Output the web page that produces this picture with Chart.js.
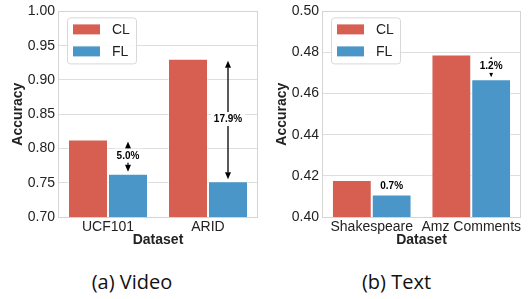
<!DOCTYPE html>
<html>
<head>
<meta charset="utf-8">
<title>CL vs FL accuracy</title>
<script src="https://cdn.jsdelivr.net/npm/chart.js@4/dist/chart.umd.min.js"></script>
<style>
  body { margin:0; background:#fff; }
  #wrap { position:relative; width:529px; height:299px; }
  canvas { position:absolute; top:0; }
  .cap { position:absolute; top:268px; font-family:"Open Sans","Noto Sans",sans-serif; font-size:20px; color:#111; text-align:center; width:264px; }
</style>
</head>
<body>
<div id="wrap">
  <canvas id="video" width="264" height="250" style="left:0"></canvas>
  <canvas id="text" width="265" height="250" style="left:264px"></canvas>
  <div class="cap" style="left:0">(a) Video</div>
  <div class="cap" style="left:264px;width:265px">(b) Text</div>
</div>
<script>
// data
var videoCats = ["UCF101", "ARID"];
var videoCL = [0.813, 0.931];
var videoFL = [0.763, 0.752];
var videoGap = ["5.0%", "17.9%"];

var textCats = ["Shakespeare", "Amz Comments"];
var textCL = [0.418, 0.479];
var textFL = [0.411, 0.467];
var textGap = ["0.7%", "1.2%"];

var seriesNames = ["CL", "FL"];
var red = "#d65f52", blue = "#4a96c9";
var ink = "#222";
var FONT = "'Liberation Sans', Arial, sans-serif";

// arrows between CL and FL, with the gap label on a white box
var gapPlugin = {
  id: "gaps",
  afterDatasetsDraw: function(chart) {
    var ctx = chart.ctx, y = chart.scales.y;
    var cl = chart.data.datasets[0].data, fl = chart.data.datasets[1].data;
    var labels = chart.options.gapLabels;
    var meta = chart.getDatasetMeta(1);
    ctx.save();
    for (var i = 0; i < cl.length; i++) {
      var x = meta.data[i].x;
      var y1 = y.getPixelForValue(cl[i]) + 2, y2 = y.getPixelForValue(fl[i]) - 2;
      ctx.strokeStyle = "#000"; ctx.fillStyle = "#000"; ctx.lineWidth = 1.3;
      var hl = 7, hw = 3;
      ctx.beginPath(); ctx.moveTo(x, y1 + hl); ctx.lineTo(x, y2 - hl); ctx.stroke();
      ctx.beginPath(); ctx.moveTo(x, y1); ctx.lineTo(x - hw, y1 + hl); ctx.lineTo(x + hw, y1 + hl); ctx.closePath(); ctx.fill();
      ctx.beginPath(); ctx.moveTo(x, y2); ctx.lineTo(x - hw, y2 - hl); ctx.lineTo(x + hw, y2 - hl); ctx.closePath(); ctx.fill();
      var my = (y1 + y2) / 2 - 1;
      ctx.font = "bold 10px " + FONT;
      var w = ctx.measureText(labels[i]).width;
      ctx.fillStyle = "#fff";
      ctx.fillRect(x - w / 2 - 3, my - 7, w + 6, 14);
      ctx.fillStyle = "#000"; ctx.textAlign = "center"; ctx.textBaseline = "middle";
      ctx.fillText(labels[i], x, my + 0.5);
    }
    ctx.restore();
  },
  afterDraw: function(chart) {
    var ctx = chart.ctx, a = chart.chartArea;
    ctx.save();
    // frame
    ctx.strokeStyle = "#d4d4d4"; ctx.lineWidth = 1;
    ctx.strokeRect(Math.round(a.left) + 0.5, Math.round(a.top) + 0.5, Math.round(a.right - a.left) - 1, Math.round(a.bottom - a.top));
    // legend box
    var bx = a.left + 9, by = a.top + 6;
    ctx.fillStyle = "rgba(255,255,255,0.85)";
    ctx.strokeStyle = "#d8d8d8";
    ctx.beginPath();
    ctx.roundRect(bx + 0.5, by + 0.5, 69, 46, 3);
    ctx.fill(); ctx.stroke();
    ctx.font = "14px " + FONT; ctx.textBaseline = "middle"; ctx.textAlign = "left";
    chart.data.datasets.forEach(function(ds, k) {
      var ry = by + 12 + k * 22;
      ctx.fillStyle = ds.backgroundColor;
      ctx.fillRect(bx + 6, ry - 5, 27, 10);
      ctx.fillStyle = ink;
      ctx.fillText(ds.label, bx + 45, ry + 1);
    });
    ctx.restore();
  }
};

function makeChart(id, cats, cl, fl, gaps, min, max, step, padRight) {
  return new Chart(document.getElementById(id).getContext("2d"), {
    type: "bar",
    data: {
      labels: cats,
      datasets: [
        { label: seriesNames[0], data: cl, backgroundColor: red, borderColor: "rgba(255,255,255,0.5)", borderWidth: 1 },
        { label: seriesNames[1], data: fl, backgroundColor: blue, borderColor: "rgba(255,255,255,0.5)", borderWidth: 1 }
      ]
    },
    options: {
      responsive: false,
      animation: false,
      gapLabels: gaps,
      layout: { padding: { left: 10, top: 10, right: padRight, bottom: 1 } },
      plugins: { legend: { display: false }, tooltip: { enabled: false } },
      datasets: { bar: { categoryPercentage: 0.8, barPercentage: 1.0 } },
      scales: {
        x: {
          grid: { display: false, drawTicks: false },
          border: { display: false },
          ticks: { color: ink, font: { family: FONT, size: 14 }, padding: 2, maxRotation: 0, autoSkip: false },
          title: { display: true, text: "Dataset", color: ink, font: { family: FONT, size: 14, weight: "bold" }, padding: 0 },
          afterFit: function(s) { s.height = 32; }
        },
        y: {
          min: min, max: max,
          grid: { color: "#dedede", drawTicks: false },
          border: { display: false },
          ticks: { stepSize: step, color: ink, font: { family: FONT, size: 14 }, padding: 3,
                   callback: function(v) { return v.toFixed(2); } },
          title: { display: true, text: "Accuracy", color: ink, font: { family: FONT, size: 14, weight: "bold" }, padding: 0 },
          afterFit: function(s) { s.width = 48; }
        }
      }
    },
    plugins: [gapPlugin]
  });
}

makeChart("video", videoCats, videoCL, videoFL, videoGap, 0.70, 1.00, 0.05, 6);
makeChart("text", textCats, textCL, textFL, textGap, 0.40, 0.50, 0.02, 8);
</script>
</body>
</html>
